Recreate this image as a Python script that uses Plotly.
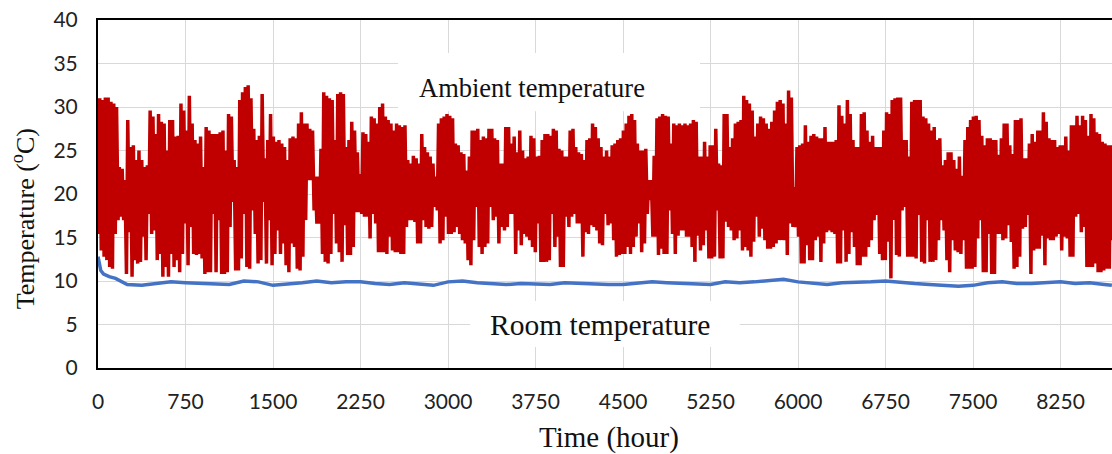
import plotly.graph_objects as go

# Daily maximum / minimum ambient temperature (°C)
ambient_max = [
    31.0, 30.8, 31.1, 31.1, 30.6, 30.4, 30.0, 23.1, 22.9, 21.6,
    28.5, 25.4, 25.6, 23.9, 25.0, 23.9, 23.1, 23.3, 29.6, 28.9,
    26.9, 29.2, 28.3, 28.1, 25.0, 28.5, 28.5, 26.6, 26.7, 30.4,
    29.6, 27.3, 31.3, 28.1, 26.2,
    25.8, 26.6, 23.1, 27.7, 27.3, 26.9, 26.9, 26.9, 27.1, 27.3,
    25.0, 29.2, 28.9, 23.9, 23.1, 30.8, 31.7, 32.3, 32.5, 31.0,
    27.5, 26.2, 26.7, 31.5, 24.1, 26.2, 29.2, 26.6, 26.0, 26.2,
    25.8, 25.4, 23.9, 26.4, 26.6,
    26.4, 28.1, 29.4, 28.1, 28.1, 27.5, 27.3, 22.0, 22.0, 25.2,
    31.7, 31.3, 31.0, 30.8, 26.2, 31.5, 31.7, 31.5, 25.4, 26.2,
    28.3, 27.3, 24.8, 22.3, 27.1, 26.9, 26.0, 28.9, 28.7, 28.1,
    30.0, 30.4, 28.9, 28.5, 28.1, 27.3,
    28.1, 27.9, 27.7, 27.9, 23.9, 23.5, 24.4, 24.1, 23.5, 26.9,
    25.4, 24.8, 24.3, 23.5, 22.0, 28.1, 28.7, 28.9, 29.2, 29.0,
    28.7, 25.8, 25.6, 24.8, 24.6, 22.7, 24.3, 27.3, 27.3, 27.5,
    26.2, 26.6, 26.4, 27.5, 27.5, 26.4,
    26.2, 23.5, 23.5, 27.7, 27.7, 25.8, 26.6, 24.8, 27.3, 25.0,
    24.1, 24.3, 26.7, 26.4, 24.3, 24.4, 26.2, 26.9, 26.9, 26.7,
    27.5, 27.3, 25.2, 25.0, 24.3, 24.3, 27.3, 27.5, 25.4, 24.8,
    24.6, 23.9, 26.2, 26.4, 28.1, 27.7,
    26.4, 25.4, 24.3, 25.0, 24.3, 25.6, 25.8, 26.2, 26.4, 27.3,
    28.1, 29.0, 29.2, 28.5, 25.8, 25.0, 25.0, 25.2, 21.6, 21.6,
    24.4, 28.7, 28.9, 29.2, 29.0, 28.9, 25.8, 28.1, 27.9, 28.1,
    27.9, 28.1, 27.9, 28.1, 28.5,
    28.3, 24.3, 24.3, 26.0, 24.3, 25.6, 25.6, 27.5, 23.5, 23.3,
    29.2, 29.2, 25.4, 26.4, 28.1, 28.3, 28.5, 31.3, 30.8, 30.4,
    29.6, 26.6, 28.1, 28.9, 28.7, 28.1, 27.5, 28.3, 29.6, 30.6,
    30.8, 30.4, 28.1, 31.9, 31.1, 20.8,
    25.4, 25.6, 25.8, 27.9, 26.0, 26.7, 26.9, 26.6, 26.4, 26.4,
    27.7, 26.0, 26.0, 26.0, 26.2, 30.2, 29.0, 28.1, 30.8, 29.2,
    26.2, 25.4, 25.4, 29.2, 29.4, 27.3, 26.0, 26.7, 25.4, 25.4,
    25.4, 27.3, 29.4, 29.2, 30.8, 31.0,
    31.1, 31.1, 26.2, 26.2, 24.3, 30.6, 30.8, 30.8, 30.8, 28.9,
    28.7, 28.1, 27.3, 27.7, 26.2, 26.4, 23.3, 23.9, 24.8, 24.8,
    23.9, 22.9, 24.3, 22.1, 26.2, 27.7, 28.5, 28.9, 29.0, 28.5,
    26.7, 25.6, 26.4, 26.4, 26.2,
    26.2, 24.5, 26.4, 28.1, 28.1, 25.6, 24.6, 28.5, 28.5, 28.7,
    24.1, 24.1, 25.8, 26.9, 26.0, 27.3, 27.3, 29.4, 28.3, 26.4,
    26.2, 26.2, 25.4, 25.6, 25.6, 26.6, 25.0, 27.9, 27.9, 29.0,
    27.9, 29.0, 28.5, 26.7, 29.2, 28.7, 27.1, 26.9, 26.0, 25.8,
    25.6, 25.6, 24.3,
]

ambient_min = [
    15.4, 13.5, 12.8, 12.4, 11.6, 11.4, 15.4, 17.0, 17.4, 17.0,
    10.8, 15.6, 10.5, 12.4, 12.0, 12.2, 15.1, 12.4, 17.7, 15.4,
    15.8, 12.4, 13.1, 10.5, 11.6, 10.5, 13.1, 11.6, 12.4, 11.0,
    13.1, 16.6, 11.8, 16.2, 13.1,
    13.0, 13.1, 12.6, 10.8, 11.0, 11.0, 17.7, 11.0, 17.0, 10.8,
    10.8, 11.0, 16.2, 19.1, 11.2, 11.2, 12.6, 17.7, 11.6, 11.4,
    18.1, 15.4, 12.0, 12.4, 19.1, 12.0, 17.0, 11.8, 13.1, 15.8,
    13.1, 14.3, 11.8, 11.0, 14.3,
    13.9, 11.4, 11.2, 12.8, 17.0, 21.6, 21.6, 18.1, 16.6, 16.6,
    13.1, 12.2, 12.0, 13.1, 17.7, 14.3, 13.3, 12.2, 16.4, 13.0,
    13.0, 13.9, 17.9, 17.9, 17.7, 17.4, 17.4, 14.9, 17.7, 16.6,
    13.3, 13.3, 13.3, 13.1, 15.1, 13.5,
    13.3, 13.3, 13.1, 13.1, 16.2, 17.0, 17.0, 16.8, 14.3, 14.3,
    17.0, 16.2, 16.0, 16.2, 18.5, 18.1, 14.3, 14.7, 17.4, 15.4,
    15.4, 15.6, 16.2, 15.4, 14.7, 14.3, 12.4, 11.8, 14.7, 18.5,
    13.9, 13.1, 13.9, 14.3, 18.5, 17.0,
    17.4, 14.3, 16.2, 15.8, 16.2, 17.7, 17.7, 13.1, 15.8, 14.1,
    15.4, 15.1, 14.7, 13.9, 13.3, 16.6, 12.2, 12.2, 12.2, 12.4,
    17.7, 13.9, 15.1, 11.6, 11.6, 17.4, 16.2, 17.4, 17.7, 16.6,
    16.6, 12.8, 15.6, 15.4, 16.4, 16.2,
    15.8, 14.3, 14.1, 17.7, 16.4, 16.6, 14.7, 12.8, 13.0, 13.1,
    13.1, 13.9, 13.1, 13.9, 15.1, 16.6, 13.3, 14.3, 17.7, 19.3,
    15.1, 15.1, 13.0, 13.7, 13.1, 13.1, 18.1, 15.4, 13.1, 15.2,
    15.8, 15.8, 15.1, 15.1, 13.9,
    12.2, 15.2, 13.5, 14.1, 15.8, 12.6, 12.6, 12.8, 18.1, 12.6,
    12.6, 16.8, 16.2, 15.8, 14.7, 14.9, 15.8, 13.5, 13.9, 13.5,
    12.8, 14.5, 17.4, 15.1, 16.0, 14.7, 13.7, 13.7, 13.9, 14.3,
    14.7, 14.7, 14.7, 13.0, 16.6, 16.2,
    16.2, 15.1, 12.0, 12.0, 14.1, 12.4, 12.4, 14.7, 15.1, 12.2,
    14.3, 15.6, 15.8, 15.6, 15.4, 12.0, 12.0, 15.8, 12.2, 13.1,
    15.6, 13.9, 11.8, 11.8, 12.8, 12.8, 13.9, 14.7, 17.0, 17.6,
    13.1, 12.4, 12.4, 14.5, 10.3, 17.0,
    13.0, 12.8, 18.1, 18.5, 12.8, 12.8, 12.8, 12.6, 17.6, 12.2,
    12.0, 17.0, 12.2, 12.2, 12.4, 14.7, 17.0, 15.8, 12.4, 11.0,
    14.7, 13.5, 13.3, 13.1, 14.7, 11.4, 11.4, 11.4, 11.6, 14.9,
    17.0, 11.0, 11.0, 15.4, 10.8,
    10.8, 15.4, 15.4, 14.7, 14.9, 16.4, 14.5, 11.4, 11.6, 12.8,
    16.0, 16.2, 17.6, 10.8, 13.5, 13.7, 13.7, 15.2, 11.8, 14.9,
    14.7, 14.7, 15.1, 15.4, 13.5, 15.1, 14.9, 12.8, 12.8, 17.4,
    17.7, 15.6, 16.2, 11.6, 11.6, 11.6, 12.0, 11.0, 11.0, 11.2,
    11.4, 11.4, 14.7,
]

# Room temperature (°C) at read-off hours
room_hours = [0, 24, 48, 96, 150, 250, 375, 500, 625, 750, 875, 1000, 1125, 1250,
              1375, 1500, 1625, 1750, 1875, 2000, 2125, 2250, 2375, 2500, 2625,
              2750, 2875, 3000, 3125, 3250, 3375, 3500, 3625, 3750, 3875, 4000,
              4125, 4250, 4375, 4500, 4625, 4750, 4875, 5000, 5125, 5250, 5375,
              5500, 5625, 5750, 5875, 6000, 6125, 6250, 6375, 6500, 6625, 6750,
              6875, 7000, 7125, 7250, 7375, 7500, 7625, 7750, 7875, 8000, 8125,
              8250, 8375, 8500, 8625, 8690]
room_temp = [12.8, 11.2, 10.8, 10.5, 10.3, 9.6, 9.5, 9.7, 9.9, 9.8, 9.7, 9.6, 9.6,
             10.0, 9.9, 9.5, 9.6, 9.8, 10.0, 9.8, 9.9, 9.9, 9.7, 9.6, 9.8, 9.7,
             9.5, 9.9, 10.0, 9.8, 9.7, 9.6, 9.7, 9.6, 9.6, 9.8, 9.7, 9.7, 9.6,
             9.6, 9.8, 9.9, 9.8, 9.7, 9.6, 9.6, 9.9, 9.8, 9.9, 10.1, 10.2, 9.9,
             9.7, 9.6, 9.8, 9.8, 9.9, 10.0, 9.8, 9.7, 9.6, 9.5, 9.4, 9.5, 9.8,
             9.9, 9.7, 9.7, 9.8, 9.9, 9.7, 9.8, 9.6, 9.5]

x_ticks = [0, 750, 1500, 2250, 3000, 3750, 4500, 5250, 6000, 6750, 7500, 8250]
y_ticks = [0, 5, 10, 15, 20, 25, 30, 35, 40]

# Build the hourly zig-zag table from daily min/max
amb_x, amb_y = [], []
for d, (lo, hi) in enumerate(zip(ambient_min, ambient_max)):
    amb_x += [24 * d + 4, 24 * d + 15]
    amb_y += [lo, hi]

fig = go.Figure()
fig.add_trace(go.Scatter(x=amb_x, y=amb_y, mode="lines",
                         line=dict(color="#C00000", width=3.5), showlegend=False))
fig.add_trace(go.Scatter(x=room_hours, y=room_temp, mode="lines",
                         line=dict(color="#4472C4", width=3.5), showlegend=False))

serif = "Liberation Serif, Times New Roman, serif"
fig.update_layout(
    width=1112, height=454,
    margin=dict(l=98, r=0, t=20, b=86),
    paper_bgcolor="white", plot_bgcolor="white",
    font=dict(family="Lato, sans-serif", size=21, color="#222"),
    xaxis=dict(range=[0, 8691], tickvals=x_ticks, ticktext=[str(v) for v in x_ticks],
               showgrid=True, gridcolor="#D9D9D9", gridwidth=1,
               showline=True, linecolor="black", linewidth=2, mirror=True,
               ticks="", ticklabelstandoff=14, zeroline=False),
    yaxis=dict(range=[0, 40], tickvals=y_ticks, ticktext=[str(v) for v in y_ticks],
               showgrid=True, gridcolor="#D9D9D9", gridwidth=1,
               showline=True, linecolor="black", linewidth=2,
               ticks="", ticklabelstandoff=14, zeroline=False),
    shapes=[
        dict(type="rect", xref="x", yref="y", x0=2571, x1=5160, y0=29.5, y1=36.2,
             fillcolor="white", line=dict(width=0), layer="above"),
        dict(type="rect", xref="x", yref="y", x0=3190, x1=5500, y0=2.4, y1=7.7,
             fillcolor="white", line=dict(width=0), layer="above"),
    ],
    annotations=[
        dict(x=3720, y=32.2, xref="x", yref="y", text="Ambient temperature",
             showarrow=False, font=dict(family=serif, size=26.5, color="#111")),
        dict(x=4303, y=5.0, xref="x", yref="y", text="Room temperature",
             showarrow=False, font=dict(family=serif, size=29.5, color="#111")),
        dict(x=-0.074, y=0.43, xref="paper", yref="paper", text="Temperature (<sup>o</sup>C)",
             textangle=-90, showarrow=False, xanchor="center", yanchor="middle",
             font=dict(family=serif, size=26, color="#111")),
        dict(x=0.504, y=-0.201, xref="paper", yref="paper", text="Time (hour)",
             showarrow=False, xanchor="center", yanchor="middle",
             font=dict(family=serif, size=29, color="#111")),
    ],
)

fig.write_html("out.html")
